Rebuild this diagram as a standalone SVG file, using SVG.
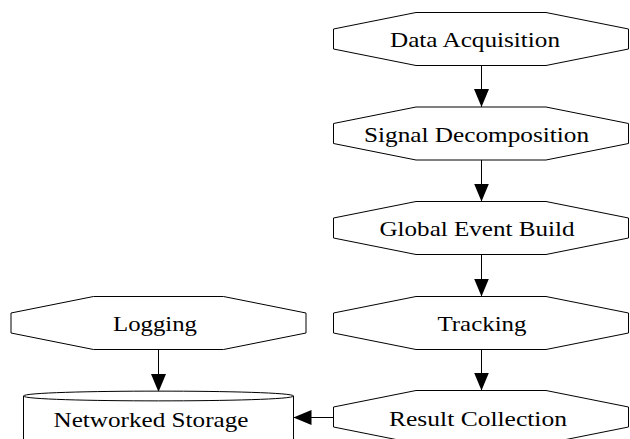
<svg xmlns="http://www.w3.org/2000/svg" xmlns:xlink="http://www.w3.org/1999/xlink" width="630" height="439" viewBox="0 0 630 439">
  <style>
    .shape { fill: #ffffff; stroke: #000000; stroke-width: 1; }
    .label { font-family: "Liberation Serif", "Times New Roman", serif; font-size: 22px; fill: #000000; text-anchor: middle; }
    .edge { fill: none; stroke: #000000; stroke-width: 1; }
  </style>
  <defs>
    <!-- process step outline, centred on the origin -->
    <polygon id="octagon" points="-65,-26.5 65,-26.5 147.5,-10 147.5,10 65,26.5 -65,26.5 -147.5,10 -147.5,-10"/>
    <marker id="arrow" viewBox="0 0 18 15" refX="18" refY="7.5" markerWidth="18" markerHeight="15" markerUnits="userSpaceOnUse" orient="auto">
      <path d="M0,0 L18,7.5 L0,15 Z" fill="#000000"/>
    </marker>
  </defs>

  <rect width="630" height="439" fill="#ffffff"/>

  <g id="connectors">
    <line class="edge" x1="481.5" y1="65.5" x2="481.5" y2="107" marker-end="url(#arrow)"/>
    <line class="edge" x1="481.5" y1="160" x2="481.5" y2="201.5" marker-end="url(#arrow)"/>
    <line class="edge" x1="481.5" y1="254.5" x2="481.5" y2="296.5" marker-end="url(#arrow)"/>
    <line class="edge" x1="481.5" y1="349.5" x2="481.5" y2="390.5" marker-end="url(#arrow)"/>
    <line class="edge" x1="158.5" y1="349.5" x2="158.5" y2="392" marker-end="url(#arrow)"/>
    <line class="edge" x1="333.5" y1="417.5" x2="293.5" y2="417.5" marker-end="url(#arrow)"/>
  </g>

  <g id="data-acquisition">
    <use xlink:href="#octagon" class="shape" transform="translate(481,39)"/>
    <text class="label" x="475" y="47" textLength="170" lengthAdjust="spacingAndGlyphs">Data Acquisition</text>
  </g>

  <g id="signal-decomposition">
    <use xlink:href="#octagon" class="shape" transform="translate(481,133.5)"/>
    <text class="label" x="476.5" y="141.5" textLength="225" lengthAdjust="spacingAndGlyphs">Signal Decomposition</text>
  </g>

  <g id="global-event-build">
    <use xlink:href="#octagon" class="shape" transform="translate(481,228)"/>
    <text class="label" x="477" y="236" textLength="195" lengthAdjust="spacingAndGlyphs">Global Event Build</text>
  </g>

  <g id="tracking">
    <use xlink:href="#octagon" class="shape" transform="translate(481,323)"/>
    <text class="label" x="482" y="331" textLength="89" lengthAdjust="spacingAndGlyphs">Tracking</text>
  </g>

  <g id="result-collection">
    <use xlink:href="#octagon" class="shape" transform="translate(481,417)"/>
    <text class="label" x="478" y="425.5" textLength="178" lengthAdjust="spacingAndGlyphs">Result Collection</text>
  </g>

  <g id="logging">
    <use xlink:href="#octagon" class="shape" transform="translate(158.5,323)"/>
    <text class="label" x="155" y="331" textLength="84" lengthAdjust="spacingAndGlyphs">Logging</text>
  </g>

  <g id="networked-storage">
    <!-- storage cylinder: body, top rim and front lip of the lid -->
    <path class="shape" d="M23.5,396 C23.5,389.5 293.5,389.5 293.5,396 L293.5,460 L23.5,460 Z"/>
    <path class="edge" d="M23.5,396 C23.5,402.5 293.5,402.5 293.5,396"/>
    <text class="label" x="151" y="427" textLength="195" lengthAdjust="spacingAndGlyphs">Networked Storage</text>
  </g>
</svg>
